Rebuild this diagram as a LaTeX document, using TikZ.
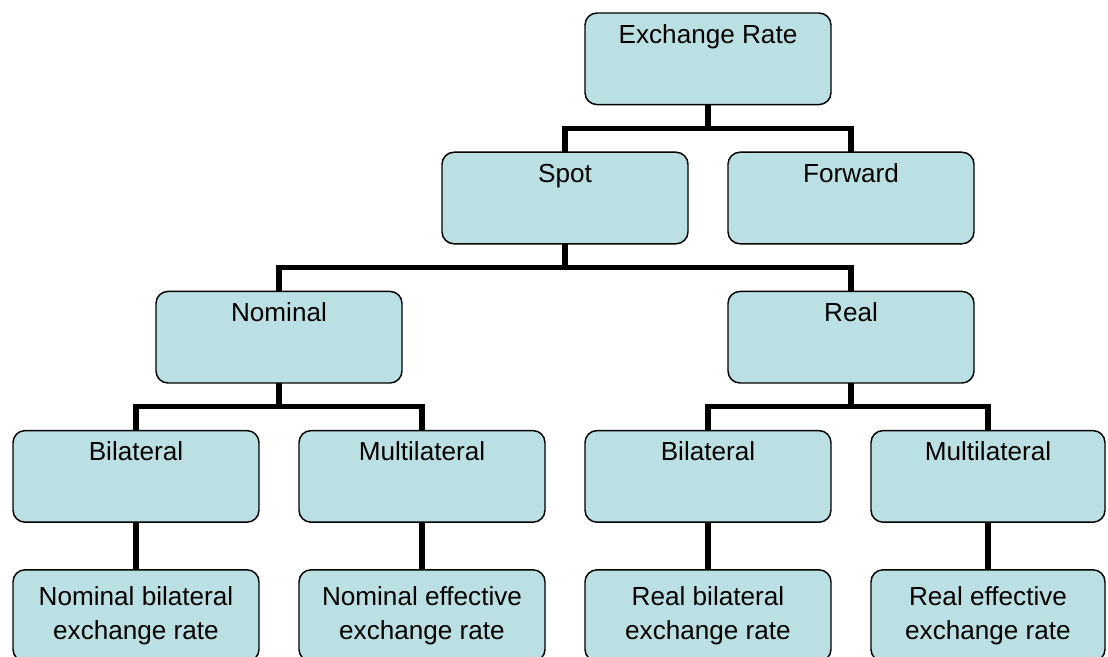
\documentclass[tikz,border=0pt]{standalone}
\usepackage{fontspec}
\setmainfont{Liberation Sans}
\usetikzlibrary{positioning, calc}
\definecolor{boxblue}{RGB}{187,224,227}

\begin{document}
\begin{tikzpicture}[node distance=35.7pt and 30pt,
        box/.style={draw, line width=1.1pt, rounded corners=9pt, fill=boxblue,
          minimum width=184.5pt, minimum height=68.7pt, inner xsep=4pt, outer sep=0pt,
          font=\fontsize{19.6pt}{25.5pt}\selectfont},
        topbox/.style={box, inner ysep=8.5pt, text height=14pt, text depth=37.7pt},
        leafbox/.style={box, align=center},
        tree/.style={draw, line width=3.9pt,
          to path={(\tikztostart.south) -- ++(0,-17.85pt) -| (\tikztotarget.north)}}]
      \clip (0,0) rectangle (831pt,-492.75pt);
      % levels 1 to 4
      \node[topbox] (root) at (531pt,-44.1pt) {Exchange Rate};
      \node[topbox, below=of root, xshift=-107.25pt] (spot) {Spot};
      \node[topbox, right=of spot] (forward) {Forward};
      \node[topbox, below=of spot, xshift=-214.5pt] (nominal) {Nominal};
      \node[topbox, below=of forward] (real) {Real};
      \node[topbox, below=of nominal, xshift=-107.25pt] (nombil) {Bilateral};
      \node[topbox, right=of nombil] (nommul) {Multilateral};
      \node[topbox, below=of real, xshift=-107.25pt] (realbil) {Bilateral};
      \node[topbox, right=of realbil, minimum width=175.5pt] (realmul) {Multilateral};
      % leaves
      \node[leafbox, below=of nombil] (nombilrate) {Nominal bilateral\\exchange rate};
      \node[leafbox, below=of nommul] (nommulrate) {Nominal effective\\exchange rate};
      \node[leafbox, below=of realbil] (realbilrate) {Real bilateral\\exchange rate};
      \node[leafbox, below=of realmul, minimum width=175.5pt] (realmulrate) {Real effective\\exchange rate};
      \path (root) edge[tree] (spot) edge[tree] (forward)
            (spot) edge[tree] (nominal) edge[tree] (real)
            (nominal) edge[tree] (nombil) edge[tree] (nommul)
            (real) edge[tree] (realbil) edge[tree] (realmul)
            (nombil) edge[tree] (nombilrate)
            (nommul) edge[tree] (nommulrate)
            (realbil) edge[tree] (realbilrate)
            (realmul) edge[tree] (realmulrate);
    \end{tikzpicture}
\end{document}
